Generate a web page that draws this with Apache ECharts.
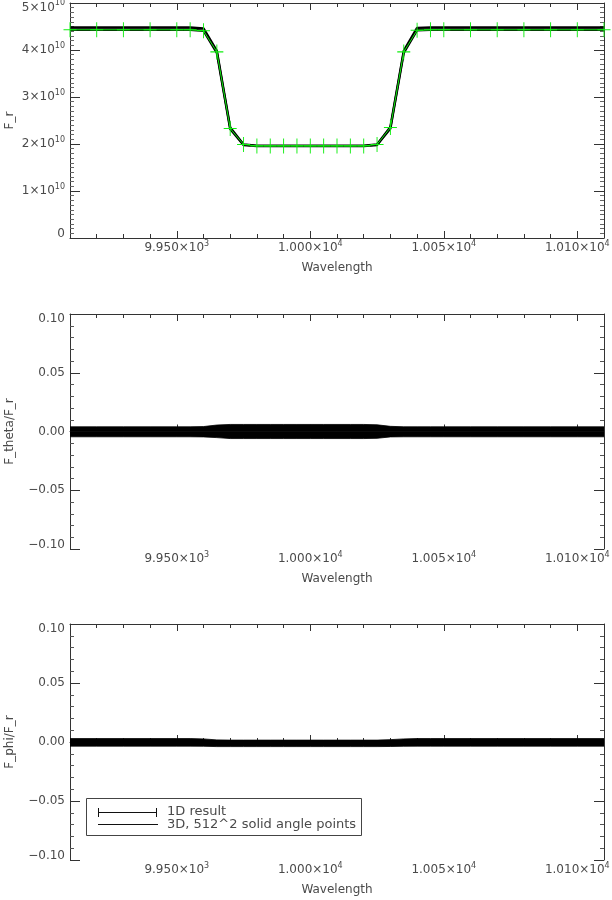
<!DOCTYPE html>
<html><head><meta charset="utf-8">
<script src="https://cdn.jsdelivr.net/npm/echarts@6/dist/echarts.min.js"></script>
<style>html,body{margin:0;padding:0;background:#fff}#c{width:612px;height:900px}</style>
</head><body><div id="c"></div>
<script>
// ---- data ----
const wavelength = [9910,9920,9930,9940,9950,9955,9960,9965,9970,9975,9980,9985,9990,9995,10000,10005,10010,10015,10020,10025,10030,10035,10040,10045,10050,10060,10070,10080,10090,10100,10110];
const flux1D = [4.43e10,4.43e10,4.43e10,4.43e10,4.43e10,4.43e10,4.41e10,3.96e10,2.33e10,1.99e10,1.96e10,1.96e10,1.96e10,1.96e10,1.96e10,1.96e10,1.96e10,1.96e10,1.96e10,1.99e10,2.35e10,3.96e10,4.42e10,4.43e10,4.43e10,4.43e10,4.43e10,4.43e10,4.43e10,4.43e10,4.43e10];
const flux3DUpper = [4.48e10,4.48e10,4.48e10,4.48e10,4.48e10,4.48e10,4.46e10,3.98e10,2.35e10,1.99e10,1.965e10,1.965e10,1.965e10,1.965e10,1.965e10,1.965e10,1.965e10,1.965e10,1.965e10,1.99e10,2.36e10,3.98e10,4.47e10,4.48e10,4.48e10,4.48e10,4.48e10,4.48e10,4.48e10,4.48e10,4.48e10];
const flux3DLower = [4.43e10,4.43e10,4.43e10,4.43e10,4.43e10,4.43e10,4.41e10,3.94e10,2.32e10,1.98e10,1.955e10,1.955e10,1.955e10,1.955e10,1.955e10,1.955e10,1.955e10,1.955e10,1.955e10,1.98e10,2.33e10,3.94e10,4.42e10,4.43e10,4.43e10,4.43e10,4.43e10,4.43e10,4.43e10,4.43e10,4.43e10];
const thetaUpper = [0.0040,0.0040,0.0040,0.0040,0.0040,0.0040,0.0042,0.0055,0.0060,0.0060,0.0060,0.0060,0.0060,0.0060,0.0060,0.0060,0.0060,0.0060,0.0060,0.0057,0.0044,0.0040,0.0040,0.0040,0.0040,0.0040,0.0040,0.0040,0.0040,0.0040,0.0040];
const thetaLower = [-0.0045,-0.0045,-0.0045,-0.0045,-0.0045,-0.0045,-0.0046,-0.0052,-0.0060,-0.0060,-0.0060,-0.0060,-0.0060,-0.0060,-0.0060,-0.0060,-0.0060,-0.0060,-0.0060,-0.0058,-0.0046,-0.0045,-0.0045,-0.0045,-0.0045,-0.0045,-0.0045,-0.0045,-0.0045,-0.0045,-0.0045];
const phiUpper = [0.0029,0.0029,0.0029,0.0029,0.0029,0.0029,0.0026,0.0018,0.0016,0.0016,0.0016,0.0016,0.0016,0.0016,0.0016,0.0016,0.0016,0.0016,0.0016,0.0016,0.0020,0.0026,0.0029,0.0029,0.0029,0.0029,0.0029,0.0029,0.0029,0.0029,0.0029];
const phiLower = [-0.0035,-0.0035,-0.0035,-0.0035,-0.0035,-0.0035,-0.0036,-0.0039,-0.0039,-0.0039,-0.0039,-0.0039,-0.0039,-0.0039,-0.0039,-0.0039,-0.0039,-0.0039,-0.0039,-0.0039,-0.0038,-0.0036,-0.0035,-0.0035,-0.0035,-0.0035,-0.0035,-0.0035,-0.0035,-0.0035,-0.0035];

const xTickValues = [9950, 10000, 10050, 10100];
const xTickMantissa = ['9.950', '1.000', '1.005', '1.010'];
const xTickExponent = ['3', '4', '4', '4'];
const fluxTickValues = [0, 1e10, 2e10, 3e10, 4e10, 5e10];
const fluxTickMantissa = ['0', '1', '2', '3', '4', '5'];
const ratioTickValues = [-0.10, -0.05, 0.00, 0.05, 0.10];
const ratioTickLabels = ['\u22120.10', '\u22120.05', '0.00', '0.05', '0.10'];
const yNames = ['F_r', 'F_theta/F_r', 'F_phi/F_r'];
const legendLabels = ['1D result', '3D, 512^2 solid angle points'];

// ---- styling ----
const FONT = 'DejaVu Sans';
const TXT = '#4a4a4a';
const AX = '#333';
const GREEN = '#11ee11';
const plusPath = 'path://M0,7.5L13,7.5M6.5,0L6.5,15';

const grids = [
  {left: 70, right: 8, top: 3, height: 235, outerBoundsMode: 'none', containLabel: false},
  {left: 70, right: 8, top: 314, height: 235, outerBoundsMode: 'none', containLabel: false},
  {left: 70, right: 8, top: 624, height: 236, outerBoundsMode: 'none', containLabel: false}
];
const pairs = arr => wavelength.map((w, i) => [w, arr[i]]);

const richY = {
  b:  {fontFamily: FONT, fontSize: 12, color: TXT},
  s:  {fontFamily: FONT, fontSize: 8, color: TXT, padding: [0, 0, 8, 0]},
  bt: {fontFamily: FONT, fontSize: 12, color: TXT, padding: [9, 0, 0, 0]},
  st: {fontFamily: FONT, fontSize: 8, color: TXT, verticalAlign: 'top', padding: [6, 0, 0, 0]},
  bb: {fontFamily: FONT, fontSize: 12, color: TXT, padding: [0, 0, 8, 0]}
};

const xAxes = [], yAxes = [], series = [];
grids.forEach((g, gi) => {
  const base = {type: 'value', gridIndex: gi, min: 9910, max: 10110, splitLine: {show: false}};
  xAxes.push(Object.assign({}, base, {
    position: 'bottom',
    axisLine: {show: true, lineStyle: {color: AX, width: 1}},
    axisTick: {show: true, inside: true, length: 7, customValues: xTickValues, lineStyle: {color: AX}},
    axisLabel: {
      show: true, customValues: xTickValues, margin: 2, hideOverlap: false,
      formatter: v => { const i = xTickValues.indexOf(v); return i < 0 ? '' : '{b|' + xTickMantissa[i] + '\u00d710}{s|' + xTickExponent[i] + '}'; },
      rich: {b: {fontFamily: FONT, fontSize: 12, color: TXT}, s: {fontFamily: FONT, fontSize: 8, color: TXT, padding: [0, 0, 8, 0]}}
    },
    name: 'Wavelength', nameLocation: 'middle', nameGap: 24, nameMoveOverlap: false,
    nameTextStyle: {fontFamily: FONT, fontSize: 12, color: TXT}
  }));
  xAxes.push(Object.assign({}, base, {
    position: 'bottom', interval: 10,
    axisLine: {show: false}, axisLabel: {show: false},
    axisTick: {show: true, inside: true, length: 4, lineStyle: {color: AX}}
  }));
  xAxes.push(Object.assign({}, base, {
    position: 'top',
    axisLine: {show: true, lineStyle: {color: AX, width: 1}}, axisLabel: {show: false},
    axisTick: {show: true, inside: true, length: 7, customValues: xTickValues, lineStyle: {color: AX}}
  }));
  xAxes.push(Object.assign({}, base, {
    position: 'top', interval: 10,
    axisLine: {show: false}, axisLabel: {show: false},
    axisTick: {show: true, inside: true, length: 4, lineStyle: {color: AX}}
  }));

  const isFlux = gi === 0;
  const yBase = isFlux
    ? {type: 'value', gridIndex: gi, min: 0, max: 5e10, interval: 1e10, minorTick: {show: true, splitNumber: 10, length: 4, lineStyle: {color: '#666'}}}
    : {type: 'value', gridIndex: gi, min: -0.1, max: 0.1, interval: 0.05, minorTick: {show: true, splitNumber: 5, length: 4, lineStyle: {color: '#555'}}};
  const fluxFmt = v => {
    const i = fluxTickValues.findIndex(t => Math.abs(t - v) < 1);
    if (i < 0) return '';
    if (i === 0) return '{bb|' + fluxTickMantissa[i] + '}';
    if (i === fluxTickValues.length - 1) return '{bt|' + fluxTickMantissa[i] + '\u00d710}{st|10}';
    return '{b|' + fluxTickMantissa[i] + '\u00d710}{s|10}';
  };
  const ratioFmt = v => {
    const i = ratioTickValues.findIndex(t => Math.abs(t - v) < 1e-6);
    if (i < 0) return '';
    if (i === 0) return '{bb|' + ratioTickLabels[i] + '}';
    if (i === ratioTickValues.length - 1) return '{bt|' + ratioTickLabels[i] + '}';
    return '{b|' + ratioTickLabels[i] + '}';
  };
  yAxes.push(Object.assign({}, yBase, {
    position: 'left', splitLine: {show: false}, minorSplitLine: {show: false},
    axisLine: {show: true, lineStyle: {color: AX, width: 1}},
    axisTick: {show: true, inside: true, length: 10, lineStyle: {color: AX}},
    axisLabel: {show: true, margin: 5, hideOverlap: false, formatter: isFlux ? fluxFmt : ratioFmt, rich: richY},
    name: yNames[gi], nameLocation: 'middle', nameGap: 54, nameMoveOverlap: false,
    nameTextStyle: {fontFamily: FONT, fontSize: 12, color: TXT}
  }));
  yAxes.push(Object.assign({}, yBase, {
    position: 'right', splitLine: {show: false}, minorSplitLine: {show: false},
    axisLine: {show: true, lineStyle: {color: AX, width: 1}},
    axisTick: {show: true, inside: true, length: 10, lineStyle: {color: AX}},
    axisLabel: {show: false}
  }));
});

const lineBase = {type: 'line', symbol: 'none', animation: false, silent: true};
// top panel: 3D (black band edges) then 1D (green with plus symbols)
series.push(Object.assign({}, lineBase, {name: '3D upper', xAxisIndex: 0, yAxisIndex: 0, data: pairs(flux3DUpper), lineStyle: {color: '#000', width: 2.4}}));
series.push(Object.assign({}, lineBase, {name: '3D lower', xAxisIndex: 0, yAxisIndex: 0, data: pairs(flux3DLower), lineStyle: {color: '#000', width: 2.4}}));
series.push(Object.assign({}, lineBase, {name: '1D', xAxisIndex: 0, yAxisIndex: 0, data: pairs(flux1D),
  symbol: plusPath, symbolSize: [13, 15], showAllSymbol: true,
  itemStyle: {color: GREEN, borderColor: GREEN, borderWidth: 1},
  lineStyle: {color: GREEN, width: 1}}));
// ratio panels: filled band between lower and upper envelopes (straddling zero)
[[thetaUpper, thetaLower], [phiUpper, phiLower]].forEach((pr, k) => {
  const gi = k + 1;
  pr.forEach(arr => {
    series.push(Object.assign({}, lineBase, {xAxisIndex: gi * 4, yAxisIndex: gi * 2, data: pairs(arr),
      lineStyle: {color: '#000', width: 0.8}, areaStyle: {color: '#000', opacity: 1, origin: 0}}));
  });
});

const legendGraphic = {
  type: 'group', x: 0, y: 0, silent: true,
  children: [
    {type: 'rect', shape: {x: 86.5, y: 798.5, width: 275, height: 37}, style: {fill: '#fff', stroke: '#444', lineWidth: 1}},
    {type: 'line', shape: {x1: 98, y1: 812.5, x2: 157, y2: 812.5}, style: {stroke: '#111', lineWidth: 1}},
    {type: 'line', shape: {x1: 98.5, y1: 808, x2: 98.5, y2: 817}, style: {stroke: '#111', lineWidth: 1}},
    {type: 'line', shape: {x1: 156.5, y1: 808, x2: 156.5, y2: 817}, style: {stroke: '#111', lineWidth: 1}},
    {type: 'line', shape: {x1: 98, y1: 824.5, x2: 158, y2: 824.5}, style: {stroke: '#111', lineWidth: 1}},
    {type: 'text', x: 167, y: 812, style: {text: legendLabels[0], fontFamily: FONT, fontSize: 13, fill: TXT, verticalAlign: 'middle'}},
    {type: 'text', x: 167, y: 825, style: {text: legendLabels[1], fontFamily: FONT, fontSize: 13, fill: TXT, verticalAlign: 'middle'}}
  ]
};

const chart = echarts.init(document.getElementById('c'), null, {renderer: 'canvas'});
chart.setOption({
  animation: false,
  backgroundColor: '#fff',
  grid: grids,
  xAxis: xAxes,
  yAxis: yAxes,
  series: series,
  graphic: [legendGraphic]
});
</script></body></html>
